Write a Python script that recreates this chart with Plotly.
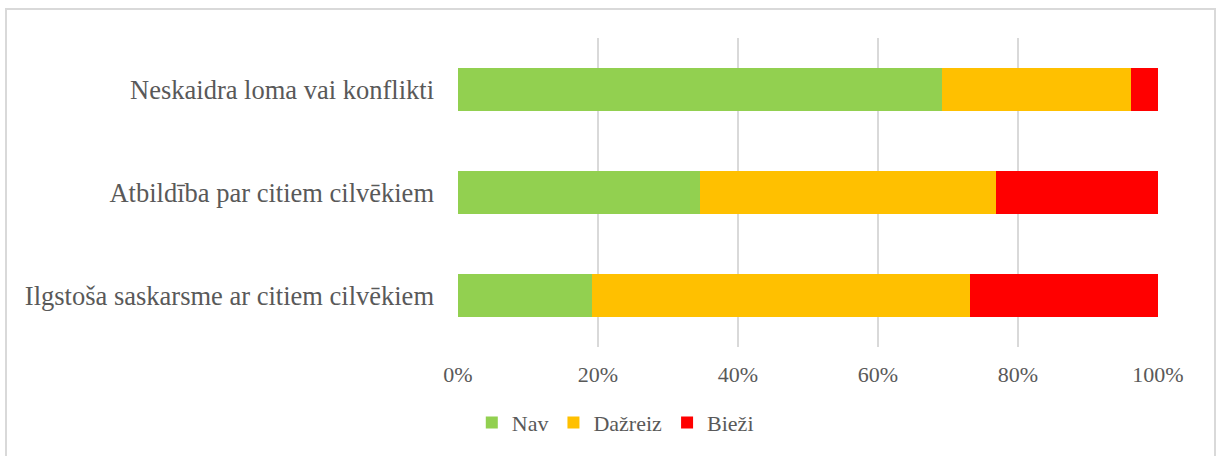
import plotly.graph_objects as go

categories = ["Ilgstoša saskarsme ar citiem cilvēkiem",
              "Atbildība par citiem cilvēkiem",
              "Neskaidra loma vai konflikti"]
nav = [19.2, 34.6, 69.2]
dazreiz = [53.9, 42.3, 26.9]
biezi = [26.9, 23.1, 3.9]
tick_vals = [0, 20, 40, 60, 80, 100]
tick_text = ["0%", "20%", "40%", "60%", "80%", "100%"]

W, H = 1216, 456
L, R, T, B = 458, 58, 38, 109
pw, ph = W - L - R, H - T - B

fig = go.Figure()
for name, vals, col in [("Nav", nav, "#92d050"), ("Dažreiz", dazreiz, "#ffc000"), ("Bieži", biezi, "#ff0000")]:
    fig.add_trace(go.Bar(y=categories, x=vals, name=name, orientation="h",
                         marker=dict(color=col, line=dict(width=0))))

fam = "Liberation Serif, Times New Roman, serif"
tick_font = dict(family=fam, size=22, color="#595959")
cat_font = dict(family=fam, size=26.5, color="#595959")
fig.update_layout(
    barmode="stack", bargap=0.59,
    width=W, height=H,
    margin=dict(l=L, r=R, t=T, b=B),
    plot_bgcolor="white", paper_bgcolor="white",
    font=tick_font,
    showlegend=True,
    legend=dict(orientation="h", xref="container", yref="container", x=0.506, y=0.027,
                xanchor="center", yanchor="bottom", font=tick_font, traceorder="normal",
                itemwidth=30),
    xaxis=dict(range=[0, 100], tickvals=tick_vals, ticktext=tick_text, showgrid=True,
               gridcolor="#d9d9d9", gridwidth=1.5, zeroline=False, showline=False,
               ticks="", tickfont=tick_font, ticklabelstandoff=12, fixedrange=True),
    yaxis=dict(showgrid=False, zeroline=False, showline=False, ticks="",
               tickfont=cat_font, ticklabelstandoff=23, fixedrange=True),
    shapes=[dict(type="rect", xref="paper", yref="paper",
                 x0=(6 - L) / pw, x1=(1215 - L) / pw,
                 y0=(H - B - 470) / ph, y1=(H - B - 9) / ph,
                 line=dict(color="#d9d9d9", width=2), layer="below")],
)

fig.write_html("out.html", config={"displayModeBar": False},
               post_script="document.body.style.margin='0';")
